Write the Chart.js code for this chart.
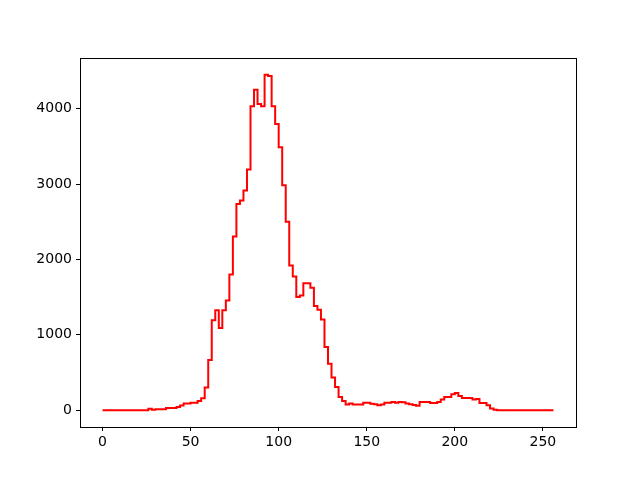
<!DOCTYPE html>
<html>
<head>
<meta charset="utf-8">
<script src="https://cdn.jsdelivr.net/npm/chart.js@4/dist/chart.umd.min.js"></script>
<style>
  html, body { margin: 0; padding: 0; background: #fff; }
  #histogram { display: block; }
</style>
</head>
<body>
<canvas id="histogram" width="640" height="480"></canvas>
<script>
// histogram: 128 bins of width 2 over 0..256
const binStart = 0;
const binWidth = 2;
const counts = [
  0, 0, 0, 0, 0, 0, 0, 0, 0, 0, 0, 0, 0,
  20, 5, 13, 13, 13, 30, 30, 30, 44, 62, 88, 88, 100, 100, 124, 160, 300,
  665, 1195, 1325, 1090, 1325, 1457, 1800, 2305, 2737, 2781, 2914, 3192,
  4031, 4252, 4062, 4031, 4450, 4433, 4031, 3797, 3488, 2985, 2499, 1920,
  1775, 1501, 1523, 1686, 1686, 1625, 1381, 1333, 1205, 838, 615, 433, 309,
  177, 124, 75, 88, 75, 75, 75, 100, 100, 85, 80, 65, 75, 100, 100, 110,
  100, 110, 105, 90, 80, 70, 60, 110, 110, 110, 97, 97, 110, 141, 177, 177,
  212, 230, 190, 163, 163, 163, 141, 150, 97, 97, 66, 22, 5,
  0, 0, 0, 0, 0, 0, 0, 0, 0, 0, 0, 0, 0, 0, 0, 0
];
const xTicks = [0, 50, 100, 150, 200, 250];
const yTicks = [0, 1000, 2000, 3000, 4000];

const stepPoints = counts.map((c, i) => ({ x: binStart + i * binWidth, y: c }));
stepPoints.push({ x: binStart + counts.length * binWidth, y: counts[counts.length - 1] });

const xMax = binStart + counts.length * binWidth;
const xPad = (xMax - binStart) * 0.05;
const yMax = Math.max(...counts);
const yPad = yMax * 0.05;

const frame = {
  id: "frame",
  afterDraw(chart) {
    const { ctx, chartArea } = chart;
    ctx.save();
    ctx.strokeStyle = "#000";
    ctx.lineWidth = 1;
    ctx.strokeRect(Math.round(chartArea.left) + 0.5, Math.round(chartArea.top) + 0.5,
      Math.round(chartArea.right - chartArea.left), Math.round(chartArea.bottom - chartArea.top));
    ctx.restore();
  },
};

const tickFont = { family: "DejaVu Sans", size: 14 };
const plainLabel = (value) => String(value);

new Chart(document.getElementById("histogram"), {
  type: "line",
  data: {
    datasets: [
      {
        data: stepPoints,
        borderColor: "#ff0000",
        borderWidth: 2,
        stepped: "before",
        pointRadius: 0,
        fill: false,
      },
    ],
  },
  options: {
    responsive: false,
    animation: false,
    events: [],
    layout: { padding: { left: 0, top: 58, right: 64, bottom: 0 } },
    plugins: { legend: { display: false }, tooltip: { enabled: false } },
    scales: {
      x: {
        type: "linear",
        min: binStart - xPad,
        max: xMax + xPad,
        afterBuildTicks: (scale) => { scale.ticks = xTicks.map((v) => ({ value: v })); },
        afterFit: (scale) => { scale.height = 53; },
        grid: { display: true, drawOnChartArea: false, drawTicks: true, tickLength: 4, color: "#000" },
        border: { display: true, color: "#000" },
        ticks: { color: "#000", font: tickFont, padding: 3, maxRotation: 0, callback: plainLabel },
      },
      y: {
        type: "linear",
        min: -yPad,
        max: yMax + yPad,
        afterBuildTicks: (scale) => { scale.ticks = yTicks.map((v) => ({ value: v })); },
        afterFit: (scale) => { scale.width = 80; },
        grid: { display: true, drawOnChartArea: false, drawTicks: true, tickLength: 4, color: "#000" },
        border: { display: true, color: "#000" },
        ticks: { color: "#000", font: tickFont, padding: 4, callback: plainLabel },
      },
    },
  },
  plugins: [frame],
});
</script>
</body>
</html>
